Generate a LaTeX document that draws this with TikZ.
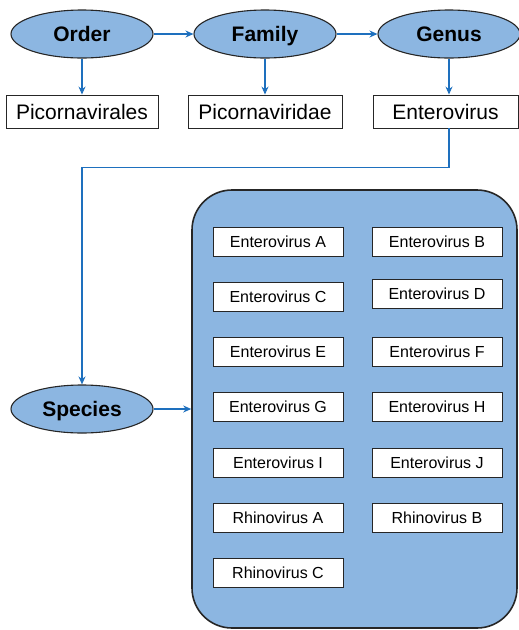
\documentclass[tikz,border=0pt]{standalone}
\usepackage{fontspec}
\setmainfont{Liberation Sans}
\usetikzlibrary{arrows.meta,shapes.geometric}
\definecolor{taxfill}{RGB}{140,182,225}
\definecolor{taxline}{RGB}{30,112,190}
\tikzset{
  rank/.style={ellipse, draw=black!85, line width=1.1pt, fill=taxfill, inner sep=0pt,
    minimum width=142pt, minimum height=48pt, text height=15pt, text depth=0pt,
    font=\fontsize{21}{24}\selectfont\bfseries},
  taxon/.style={draw=black!85, line width=0.9pt, fill=white, inner sep=0pt,
    minimum height=33pt, text height=15pt, text depth=0pt, font=\fontsize{21}{24}\selectfont},
  virus/.style={draw=black!85, line width=0.9pt, fill=white, inner sep=0pt,
    minimum width=130pt, minimum height=29pt, font=\fontsize{16}{18}\selectfont},
  group/.style={draw=black!85, line width=1.6pt, fill=taxfill, rounded corners=40pt,
    minimum width=325pt, minimum height=438pt},
  link/.style={draw=taxline, line width=1.1pt, -{Stealth[length=8pt,width=7pt]}}
}
\begin{document}
\begin{tikzpicture}[x=1pt,y=-1pt]
  \useasboundingbox (0,0) rectangle (519,630);
  \node[rank] (order) at (82,34) {Order};
  \node[rank] (family) at (265,34) {Family};
  \node[rank] (genus) at (449,34) {Genus};
  \node[rank] (species) at (82,409) {Species};
  \node[taxon, minimum width=152pt] (picornavirales) at (82,111.5) {Picornavirales};
  \node[taxon, minimum width=154pt] (picornaviridae) at (265,111.5) {Picornaviridae};
  \node[taxon, minimum width=145pt] (enterovirus) at (445.5,111.5) {Enterovirus};
  \node[group] (species group) at (354.5,409) {};
  \node[virus] (evA) at (278,242) {Enterovirus A};
  \node[virus] (evB) at (437,242) {Enterovirus B};
  \node[virus] (evC) at (278,297) {Enterovirus C};
  \node[virus] (evD) at (437,294) {Enterovirus D};
  \node[virus] (evE) at (278,352) {Enterovirus E};
  \node[virus] (evF) at (437,352) {Enterovirus F};
  \node[virus] (evG) at (278,407) {Enterovirus G};
  \node[virus] (evH) at (437,407) {Enterovirus H};
  \node[virus] (evI) at (278,463) {Enterovirus I};
  \node[virus] (evJ) at (437,463) {Enterovirus J};
  \node[virus] (rvA) at (278,518) {Rhinovirus A};
  \node[virus] (rvB) at (437,518) {Rhinovirus B};
  \node[virus] (rvC) at (278,573) {Rhinovirus C};
  \begin{scope}[link]
    \draw (order) to (family);
    \draw (family) to (genus);
    \draw (order) to (picornavirales);
    \draw (family) to (picornaviridae);
    \draw (genus.south) to (genus.south |- enterovirus.north);
    \draw (genus.south |- enterovirus.south) -- ++(0,39) -| (species.north);
    \draw (species) to (species group);
  \end{scope}
\end{tikzpicture}
\end{document}
